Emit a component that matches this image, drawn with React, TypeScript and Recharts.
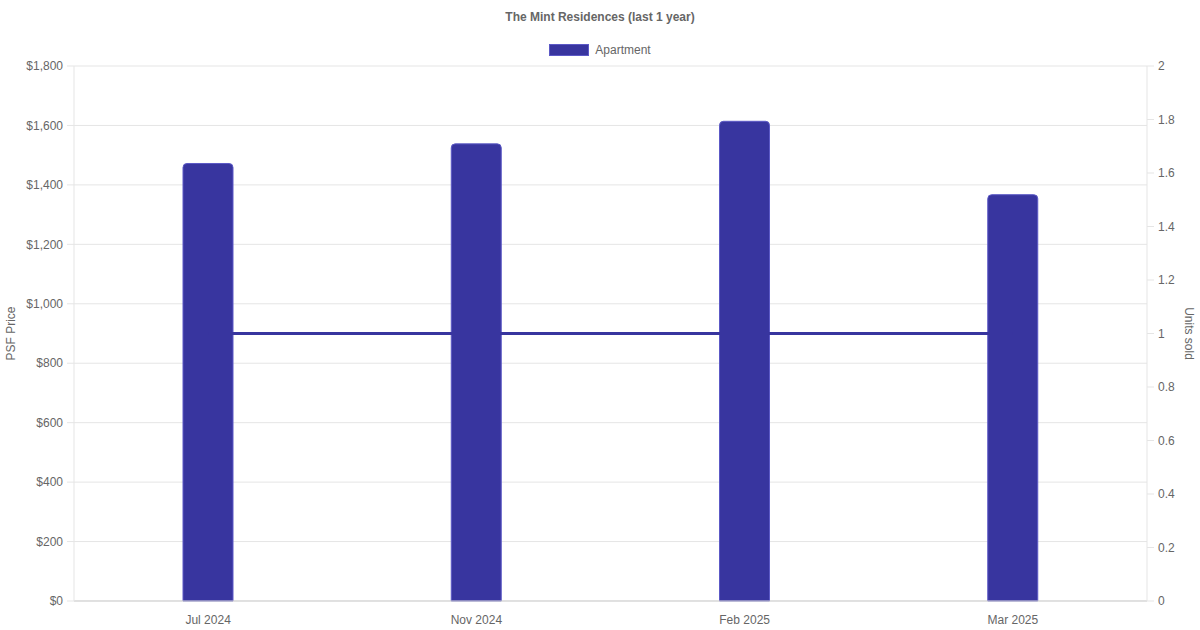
import React from "react";
import {
  Bar,
  CartesianGrid,
  ComposedChart,
  Label,
  Line,
  XAxis,
  YAxis,
} from "recharts";

const months = ["Jul 2024", "Nov 2024", "Feb 2025", "Mar 2025"];
const psfPrice = [1472, 1538, 1614, 1367];
const unitsSold = [1, 1, 1, 1];
const psfTicks = [0, 200, 400, 600, 800, 1000, 1200, 1400, 1600, 1800];
const unitTicks = [0, 0.2, 0.4, 0.6, 0.8, 1, 1.2, 1.4, 1.6, 1.8, 2];

const data = months.map((m, i) => ({ month: m, psf: psfPrice[i], units: unitsSold[i] }));

const FONT = "'Liberation Sans', Arial, sans-serif";
const TEXT = "#666";
const BAR = "#38359f";

export default function App() {
  return (
    <div style={{ position: "absolute", left: 0, top: 0, width: 1200, height: 630, background: "#fff", fontFamily: FONT }}>
      <div style={{ position: "absolute", top: 10, width: 1200, textAlign: "center", fontSize: 12, fontWeight: "bold", color: TEXT }}>
        The Mint Residences (last 1 year)
      </div>
      {/* legend drawn as html so it doesn't eat into the plot margin */}
      <div style={{ position: "absolute", top: 43, width: 1200, display: "flex", justifyContent: "center", alignItems: "center", fontSize: 12, color: TEXT }}>
        <span style={{ width: 40, height: 12, background: BAR, boxSizing: "border-box", border: "1px solid #5c59c6", marginRight: 6 }} />
        <span>Apartment</span>
      </div>
      <ComposedChart width={1200} height={630} data={data} margin={{ top: 66, right: 0, bottom: 0, left: 0 }}>
        <CartesianGrid stroke="#e5e5e5" vertical={false} yAxisId="left" />
        <XAxis
          dataKey="month"
          height={29}
          tickLine={false}
          axisLine={{ stroke: "#cfcfcf" }}
          tick={{ fill: TEXT, fontSize: 12, fontFamily: FONT }}
          tickMargin={8}
        />
        <YAxis
          yAxisId="left"
          width={74}
          domain={[0, 1800]}
          ticks={psfTicks}
          interval={0}
          tickFormatter={(v: number) => "$" + v.toLocaleString("en-US")}
          tick={{ fill: TEXT, fontSize: 12, fontFamily: FONT }}
          tickLine={{ stroke: "#e5e5e5" }}
          tickSize={7}
          tickMargin={4}
          axisLine={{ stroke: "#e5e5e5" }}
        >
          <Label value="PSF Price" angle={-90} position="insideLeft" offset={11} style={{ fill: TEXT, fontSize: 12, fontFamily: FONT, textAnchor: "middle" }} />
        </YAxis>
        <YAxis
          yAxisId="right"
          orientation="right"
          width={53}
          domain={[0, 2]}
          ticks={unitTicks}
          interval={0}
          tick={{ fill: TEXT, fontSize: 12, fontFamily: FONT }}
          tickLine={{ stroke: "#e5e5e5" }}
          tickSize={7}
          tickMargin={4}
          axisLine={{ stroke: "#e5e5e5" }}
        >
          <Label value="Units sold" angle={90} position="insideRight" offset={11} style={{ fill: TEXT, fontSize: 12, fontFamily: FONT, textAnchor: "middle" }} />
        </YAxis>
        <Line
          yAxisId="right"
          dataKey="units"
          stroke={BAR}
          strokeWidth={3}
          dot={false}
          activeDot={false}
          isAnimationActive={false}
        />
        <Bar
          yAxisId="left"
          dataKey="psf"
          name="Apartment"
          fill={BAR}
          stroke="#5c59c6"
          strokeWidth={1}
          barSize={50}
          radius={[4, 4, 0, 0]}
          isAnimationActive={false}
        />
      </ComposedChart>
    </div>
  );
}
